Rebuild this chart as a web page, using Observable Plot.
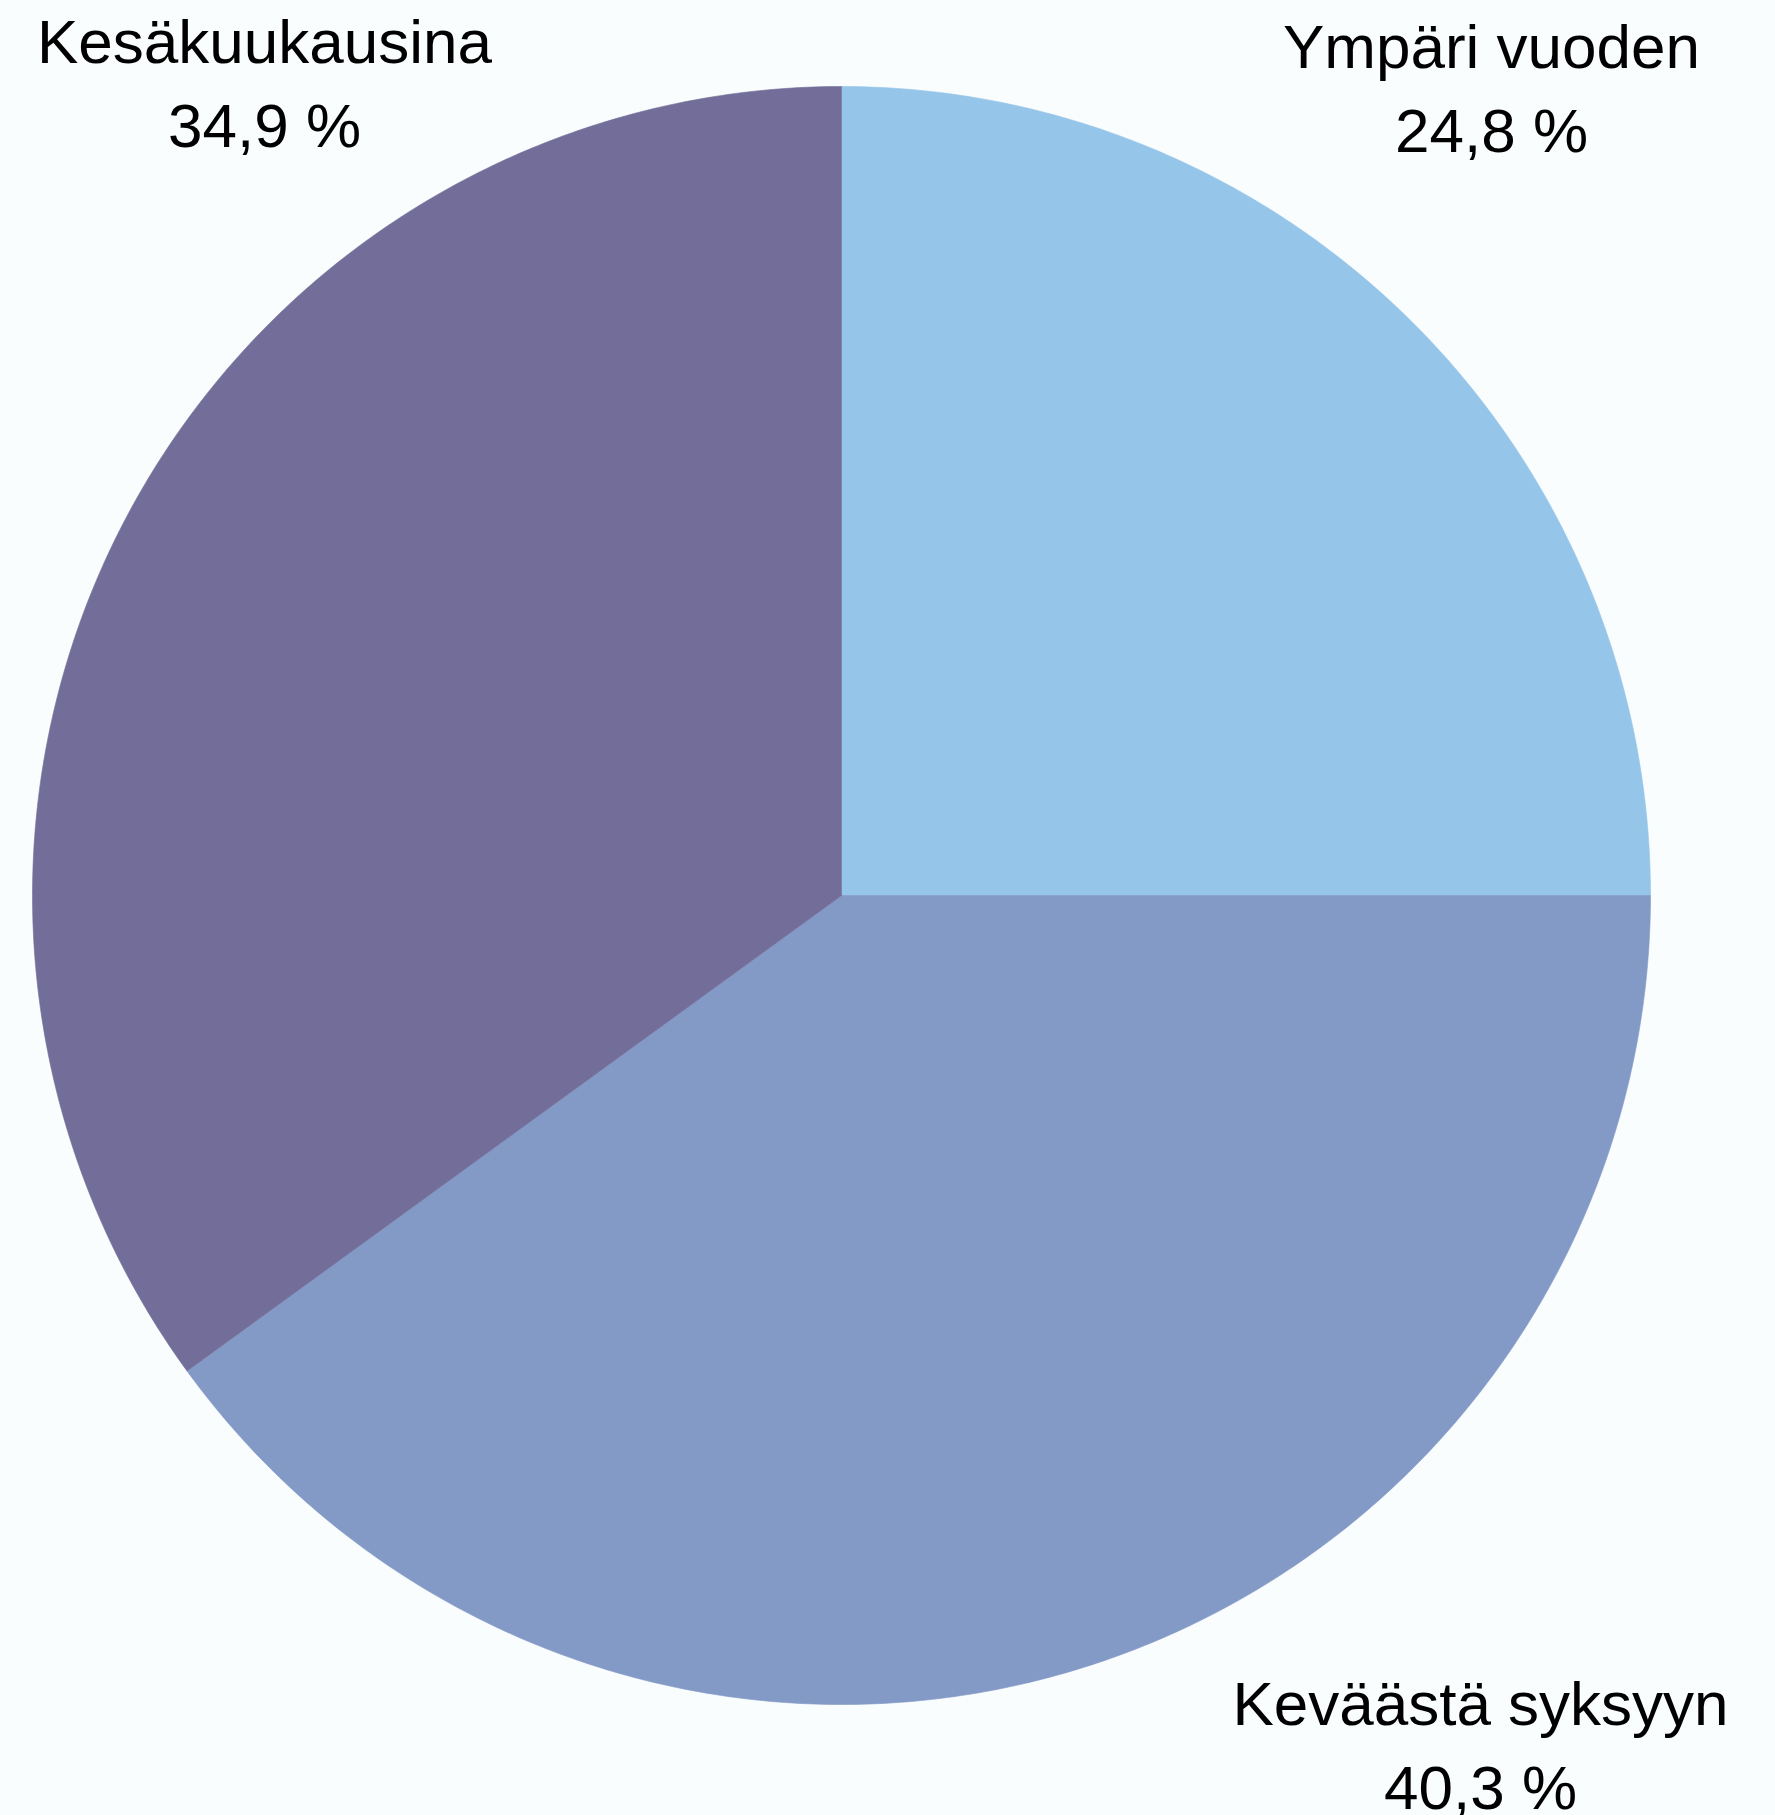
<!DOCTYPE html>
<html>
<head>
<meta charset="utf-8">
<script src="https://cdn.jsdelivr.net/npm/d3@7"></script>
<script src="https://cdn.jsdelivr.net/npm/@observablehq/plot@0.6"></script>
<style>
  html, body { margin: 0; padding: 0; background: #f9fdfd; }
  #chart svg { display: block; background: #f9fdfd; }
</style>
</head>
<body>
<div id="chart"></div>
<script>
// ---- data ----
const categories = ["Ympäri vuoden", "Keväästä syksyyn", "Kesäkuukausina"];
// slice sizes as drawn in the picture (boundaries at 12, 3 o'clock and ~234°)
const sliceShares = [25.0, 40.0, 35.0];
// printed labels
const shareLabels = ["24,8 %", "40,3 %", "34,9 %"];
const colors = ["#96c5ea", "#8399c6", "#736d99"];

// ---- layout ----
const W = 1775, H = 1815;
const cx = 841, cy = 895, R = 809;
const fontSize = 62;

const pie = d3.pie().sort(null).value(d => d.value).startAngle(0).endAngle(2 * Math.PI);
const rows = categories.map((c, i) => ({name: c, value: sliceShares[i], label: shareLabels[i], color: colors[i]}));
const arcs = pie(rows);

// polygon outline of each slice (unit radius) derived from its angles
function slicePolygon(a) {
  const pts = [{x: 0, y: 0}];
  const n = Math.max(2, Math.ceil((a.endAngle - a.startAngle) / (Math.PI / 360)));
  for (let k = 0; k <= n; k++) {
    const t = a.startAngle + (a.endAngle - a.startAngle) * k / n;
    pts.push({x: Math.sin(t), y: -Math.cos(t)});
  }
  pts.push({x: 0, y: 0});
  return pts;
}

const sliceMarks = arcs.map(a => Plot.line(slicePolygon(a), {
  x: "x", y: "y", fill: a.data.color, stroke: a.data.color, strokeWidth: 0.6, curve: "linear"
}));

// label placement (layout, per category): centre x and baseline of last line
const labelPlacement = {
  "Kesäkuukausina":   {dx: 264,  dy: 146},
  "Ympäri vuoden":    {dx: 1491, dy: 151},
  "Keväästä syksyyn": {dx: 1480, dy: 1808}
};

const labelMarks = rows.map(r => Plot.text([r], {
  frameAnchor: "top-left",
  dx: labelPlacement[r.name].dx,
  dy: labelPlacement[r.name].dy,
  text: d => d.name + "\n" + d.label,
  textAnchor: "middle",
  lineAnchor: "bottom",
  lineHeight: 1.355,
  fontSize: fontSize,
  fill: "#000"
}));

const chart = Plot.plot({
  width: W,
  height: H,
  margin: 0,
  style: {background: "#f9fdfd", fontFamily: "'Liberation Sans', Arial, sans-serif"},
  x: {domain: [-cx / R, (W - cx) / R], range: [0, W], axis: null},
  y: {domain: [-cy / R, (H - cy) / R], range: [0, H], axis: null},
  marks: [...sliceMarks, ...labelMarks]
});
document.getElementById("chart").appendChild(chart);
</script>
</body>
</html>
